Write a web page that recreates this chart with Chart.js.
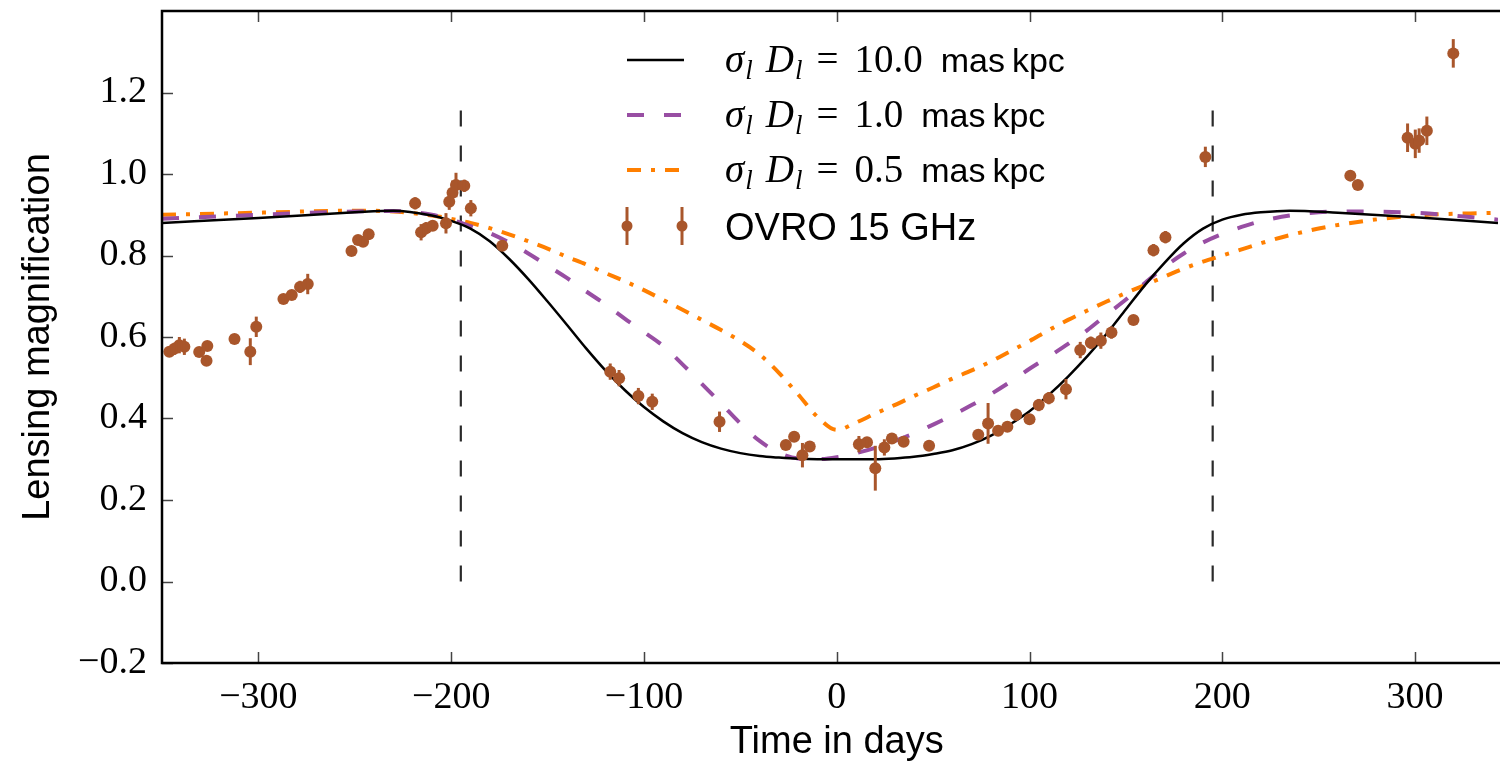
<!DOCTYPE html>
<html>
<head>
<meta charset="utf-8">
<script src="https://cdn.jsdelivr.net/npm/chart.js@4.4.0/dist/chart.umd.min.js"></script>
<style>
html, body { margin: 0; padding: 0; background: #fff; }
canvas { display: block; }
</style>
</head>
<body>
<canvas id="lensing" width="1504" height="763"></canvas>
<script>
// OVRO 15 GHz light curve (days from lens centre, magnification, 1 sigma error)
var obsDays = [-346.2, -343.6, -341.0, -338.4, -330.7, -326.5, -326.9, -312.4, -304.2, -301.1,
    -287.0, -282.7, -278.4, -274.4, -251.7, -248.3, -245.7, -242.8, -218.7, -215.6,
    -213.0, -209.6, -202.7, -201.0, -199.3, -197.5, -193.2, -189.8, -173.5, -117.5,
    -112.9, -102.9, -95.7, -60.8, -26.4, -22.1, -17.8, -14.0, 11.5, 15.7,
    20.0, 24.7, 28.6, 34.7, 47.9, 73.4, 78.5, 83.7, 88.5, 93.1,
    100.0, 104.8, 110.0, 118.9, 126.3, 131.8, 137.0, 142.5, 153.9, 164.3,
    170.5, 191.2, 266.4, 270.3, 296.1, 300.1, 302.1, 306.1, 319.8]
var obsMag = [0.564, 0.571, 0.580, 0.576, 0.563, 0.578, 0.542, 0.595, 0.564, 0.625,
    0.693, 0.703, 0.723, 0.730, 0.811, 0.838, 0.834, 0.852, 0.928, 0.857,
    0.867, 0.873, 0.879, 0.932, 0.954, 0.973, 0.971, 0.916, 0.824, 0.515,
    0.499, 0.455, 0.441, 0.392, 0.335, 0.355, 0.310, 0.331, 0.337, 0.342,
    0.278, 0.329, 0.351, 0.343, 0.333, 0.360, 0.388, 0.370, 0.380, 0.409,
    0.398, 0.433, 0.450, 0.472, 0.568, 0.586, 0.591, 0.611, 0.642, 0.813,
    0.845, 1.042, 0.996, 0.973, 1.089, 1.074, 1.082, 1.106, 1.296]
var obsErr = [0.012, 0.015, 0.020, 0.020, 0.012, 0.012, 0.012, 0.010, 0.033, 0.025,
    0.010, 0.010, 0.015, 0.025, 0.010, 0.012, 0.012, 0.012, 0.015, 0.020,
    0.015, 0.012, 0.025, 0.020, 0.030, 0.030, 0.015, 0.020, 0.012, 0.020,
    0.020, 0.020, 0.020, 0.025, 0.012, 0.012, 0.030, 0.012, 0.020, 0.012,
    0.055, 0.020, 0.012, 0.012, 0.012, 0.012, 0.050, 0.012, 0.012, 0.015,
    0.012, 0.015, 0.015, 0.025, 0.020, 0.015, 0.020, 0.015, 0.012, 0.015,
    0.015, 0.025, 0.012, 0.012, 0.035, 0.035, 0.030, 0.035, 0.035]

// model curves, sampled off the figure
var modelDays = [-350, -300, -250, -230, -210, -200, -190, -180, -170, -160,
    -150, -140, -130, -120, -110, -100, -90, -80, -70, -60,
    -50, -40, -30, -20, -10, 0, 10, 20, 30, 40,
    50, 60, 70, 80, 90, 100, 110, 120, 130, 140,
    150, 160, 170, 180, 190, 200, 210, 220, 235, 260,
    300, 343]
var model10 = [0.880, 0.892, 0.906, 0.910, 0.898, 0.885, 0.866, 0.835, 0.792, 0.742,
    0.687, 0.630, 0.572, 0.518, 0.470, 0.428, 0.393, 0.364, 0.342, 0.326,
    0.315, 0.308, 0.304, 0.301, 0.300, 0.300, 0.300, 0.300, 0.302, 0.306,
    0.313, 0.322, 0.337, 0.358, 0.386, 0.418, 0.458, 0.503, 0.553, 0.608,
    0.668, 0.728, 0.782, 0.830, 0.866, 0.888, 0.900, 0.906, 0.910, 0.905,
    0.894, 0.880]
var model1 = [0.890, 0.900, 0.908, 0.909, 0.900, 0.888, 0.872, 0.855, 0.832, 0.805,
    0.775, 0.745, 0.712, 0.680, 0.645, 0.612, 0.578, 0.533, 0.485, 0.437,
    0.388, 0.345, 0.316, 0.302, 0.300, 0.305, 0.315, 0.328, 0.345, 0.363,
    0.385, 0.408, 0.433, 0.460, 0.490, 0.522, 0.552, 0.583, 0.617, 0.655,
    0.692, 0.733, 0.772, 0.805, 0.832, 0.853, 0.870, 0.884, 0.898, 0.908,
    0.905, 0.888]
var model05 = [0.900, 0.905, 0.910, 0.908, 0.898, 0.890, 0.880, 0.867, 0.852, 0.835,
    0.817, 0.797, 0.778, 0.757, 0.737, 0.715, 0.691, 0.667, 0.642, 0.617,
    0.590, 0.557, 0.512, 0.459, 0.404, 0.372, 0.390, 0.412, 0.433, 0.455,
    0.476, 0.498, 0.518, 0.540, 0.565, 0.590, 0.617, 0.642, 0.665, 0.687,
    0.708, 0.728, 0.748, 0.768, 0.785, 0.800, 0.815, 0.830, 0.850, 0.875,
    0.898, 0.905]

var modelLabels = ['10.0', '1.0', '0.5']
var vlineDays = [-195, 195]
var vlineRange = [0.0, 1.19]
var xTicks = [-300, -200, -100, 0, 100, 200, 300]
var yTicks = [-0.2, 0.0, 0.2, 0.4, 0.6, 0.8, 1.0, 1.2]

var SERIF = '"Liberation Serif", "DejaVu Serif", serif'
var SANS = '"Liberation Sans", Arial, sans-serif'
var brown = '#a9562b'

function pts(xs, ys) {
    return xs.map(function (x, i) { return { x: x, y: ys[i] } })
}

function minus(v) {
    return v < 0 ? '\u2212' + Math.abs(v) : String(v)
}

// error bars through the chart scales
var errorBars = {
    id: 'errorBars',
    afterDatasetsDraw: function (chart) {
        var xs = chart.scales.x, ys = chart.scales.y, ctx = chart.ctx, a = chart.chartArea
        ctx.save()
        ctx.beginPath()
        ctx.rect(a.left, a.top, a.right - a.left, a.bottom - a.top)
        ctx.clip()
        ctx.strokeStyle = brown
        ctx.lineWidth = 3
        obsDays.forEach(function (d, i) {
            var px = xs.getPixelForValue(d)
            ctx.beginPath()
            ctx.moveTo(px, ys.getPixelForValue(obsMag[i] - obsErr[i]))
            ctx.lineTo(px, ys.getPixelForValue(obsMag[i] + obsErr[i]))
            ctx.stroke()
        })
        ctx.restore()
    }
}

// matplotlib-like frame with inward ticks and the axis titles
var frame = {
    id: 'frame',
    afterDraw: function (chart) {
        var ctx = chart.ctx, a = chart.chartArea, xs = chart.scales.x, ys = chart.scales.y
        ctx.save()
        ctx.strokeStyle = '#444'
        ctx.lineWidth = 1.5
        xs.ticks.forEach(function (t) {
            var px = Math.round(xs.getPixelForValue(t.value)) + 0.5
            ctx.beginPath()
            ctx.moveTo(px, a.bottom); ctx.lineTo(px, a.bottom - 11)
            ctx.moveTo(px, a.top); ctx.lineTo(px, a.top + 11)
            ctx.stroke()
        })
        ys.ticks.forEach(function (t) {
            var py = Math.round(ys.getPixelForValue(t.value)) + 0.5
            ctx.beginPath()
            ctx.moveTo(a.left, py); ctx.lineTo(a.left + 11, py)
            ctx.stroke()
        })
        ctx.strokeStyle = '#000'
        ctx.lineWidth = 2.5
        ctx.beginPath()
        ctx.moveTo(a.right + 2, a.top)
        ctx.lineTo(a.left, a.top)
        ctx.lineTo(a.left, a.bottom)
        ctx.lineTo(a.right + 2, a.bottom)
        ctx.stroke()

        ctx.fillStyle = '#000'
        ctx.font = '38px ' + SANS
        ctx.textAlign = 'center'
        ctx.textBaseline = 'alphabetic'
        ctx.fillText('Time in days', xs.getPixelForValue(0), 753)
        ctx.translate(49, (a.top + a.bottom) / 2)
        ctx.rotate(-Math.PI / 2)
        ctx.fillText('Lensing magnification', 0, 0)
        ctx.restore()
    }
}

// legend with the sigma_l D_l math labels
var mathLegend = {
    id: 'mathLegend',
    afterDraw: function (chart) {
        var ctx = chart.ctx
        var rows = [60, 115, 170]
        var x0 = 627, x1 = 684, tx = 725
        ctx.save()
        ctx.fillStyle = '#000'
        ctx.textAlign = 'left'
        ctx.textBaseline = 'alphabetic'
        for (var i = 0; i < 3; i++) {
            var ds = chart.data.datasets[i + 2]
            var y = rows[i]
            ctx.save()
            ctx.strokeStyle = ds.borderColor
            ctx.lineWidth = ds.borderWidth
            ctx.setLineDash(ds.borderDash || [])
            ctx.beginPath()
            ctx.moveTo(x0, y); ctx.lineTo(x1, y)
            ctx.stroke()
            ctx.restore()

            var x = tx, by = y + 12
            ctx.font = 'italic 39px ' + SERIF
            ctx.fillText('\u03c3', x, by); x += ctx.measureText('\u03c3').width + 1
            ctx.font = 'italic 27px ' + SERIF
            ctx.fillText('l', x, by + 7); x += ctx.measureText('l').width + 13
            ctx.font = 'italic 39px ' + SERIF
            ctx.fillText('D', x, by); x += ctx.measureText('D').width + 1
            ctx.font = 'italic 27px ' + SERIF
            ctx.fillText('l', x, by + 7); x += ctx.measureText('l').width + 14
            ctx.font = '39px ' + SERIF
            ctx.fillText('=', x, by); x += ctx.measureText('=').width + 16
            ctx.fillText(modelLabels[i], x, by); x += ctx.measureText(modelLabels[i]).width + 18
            ctx.font = '34px ' + SANS
            ctx.fillText('mas', x, by); x += ctx.measureText('mas').width + 7
            ctx.fillText('kpc', x, by)
        }
        var oy = 226
        ctx.strokeStyle = brown
        ctx.fillStyle = brown
        ctx.lineWidth = 3
        ;[x0, x1 - 2].forEach(function (mx) {
            ctx.beginPath()
            ctx.moveTo(mx, oy - 19); ctx.lineTo(mx, oy + 19)
            ctx.stroke()
            ctx.beginPath()
            ctx.arc(mx, oy, 5.5, 0, Math.PI * 2)
            ctx.fill()
        })
        ctx.fillStyle = '#000'
        ctx.font = '38px ' + SANS
        ctx.fillText('OVRO 15 GHz', tx, oy + 14)
        ctx.restore()
    }
}

var vlineStyle = { borderColor: '#2a2a2a', borderWidth: 2.2, borderDash: [16, 19], showLine: true, pointRadius: 0, order: 5 }

var ctx = document.getElementById('lensing').getContext('2d')
var lensChart = new Chart(ctx, {
    type: 'scatter',
    data: {
        datasets: [
            Object.assign({ label: 'vl', data: [{ x: vlineDays[0], y: vlineRange[0] }, { x: vlineDays[0], y: vlineRange[1] }] }, vlineStyle),
            Object.assign({ label: 'vr', data: [{ x: vlineDays[1], y: vlineRange[0] }, { x: vlineDays[1], y: vlineRange[1] }] }, vlineStyle),
            { label: '10.0', data: pts(modelDays, model10), borderColor: '#000', borderWidth: 2.5, showLine: true, pointRadius: 0, cubicInterpolationMode: 'monotone', order: 2 },
            { label: '1.0', data: pts(modelDays, model1), borderColor: '#984ea3', borderWidth: 4, borderDash: [17, 20], showLine: true, pointRadius: 0, cubicInterpolationMode: 'monotone', order: 3 },
            { label: '0.5', data: pts(modelDays, model05), borderColor: '#ff7f00', borderWidth: 4, borderDash: [14, 10, 4, 10], showLine: true, pointRadius: 0, cubicInterpolationMode: 'monotone', order: 4 },
            { label: 'OVRO 15 GHz', data: pts(obsDays, obsMag), backgroundColor: brown, borderColor: brown, borderWidth: 0, pointRadius: 6, order: 0 }
        ]
    },
    options: {
        responsive: false,
        animation: false,
        devicePixelRatio: 1,
        layout: { padding: { top: 11, left: 0, right: 0, bottom: 0 } },
        plugins: { legend: { display: false }, tooltip: { enabled: false } },
        scales: {
            x: {
                type: 'linear', min: -350, max: 343,
                grid: { display: false, drawTicks: false },
                border: { display: false },
                afterBuildTicks: function (s) { s.ticks = xTicks.map(function (v) { return { value: v } }) },
                afterFit: function (s) { s.height = 100; s.paddingLeft = 0; s.paddingRight = 0 },
                ticks: {
                    padding: 12, color: '#000', maxRotation: 0, autoSkip: false,
                    font: { family: SERIF, size: 38 },
                    callback: function (v) { return minus(v) }
                }
            },
            y: {
                type: 'linear', min: -0.2, max: 1.4,
                grid: { display: false, drawTicks: false },
                border: { display: false },
                afterBuildTicks: function (s) { s.ticks = yTicks.map(function (v) { return { value: v } }) },
                afterFit: function (s) { s.width = 162; s.paddingTop = 0; s.paddingBottom = 0 },
                ticks: {
                    padding: 15, color: '#000', autoSkip: false,
                    font: { family: SERIF, size: 38 },
                    callback: function (v) { return v < 0 ? '\u2212' + Math.abs(v).toFixed(1) : v.toFixed(1) }
                }
            }
        }
    },
    plugins: [errorBars, frame, mathLegend]
})
</script>
</body>
</html>
